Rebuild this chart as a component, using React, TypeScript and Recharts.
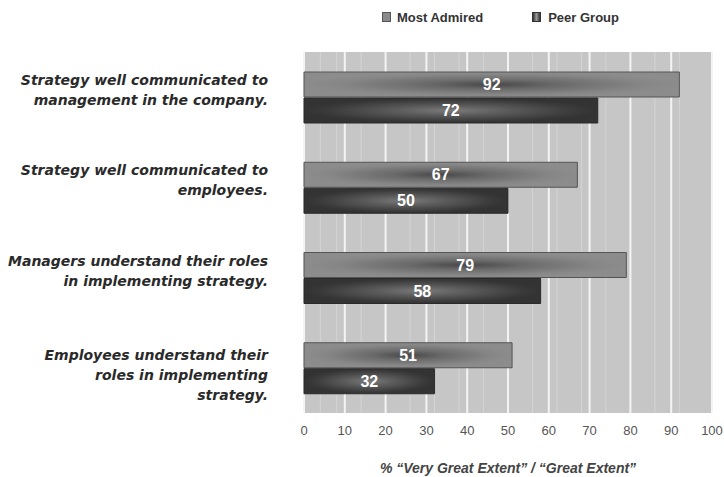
import React from "react";
import {
  BarChart,
  Bar,
  XAxis,
  YAxis,
  CartesianGrid,
  LabelList,
} from "recharts";

const categories = [
  "Strategy well communicated to management in the company.",
  "Strategy well communicated to employees.",
  "Managers understand their roles in implementing strategy.",
  "Employees understand their roles in implementing strategy.",
];
const categoryLines = [
  ["Strategy well communicated to", "management in the company."],
  ["Strategy well communicated to", "employees."],
  ["Managers understand their roles", "in implementing strategy."],
  ["Employees understand their", "roles in implementing", "strategy."],
];
const mostAdmired = [92, 67, 79, 51];
const peerGroup = [72, 50, 58, 32];
const seriesNames = ["Most Admired", "Peer Group"];
const xTicks = [0, 10, 20, 30, 40, 50, 60, 70, 80, 90, 100];
const minorTicks = Array.from({ length: 51 }, (_, i) => i * 2);
const xTitle = "% \u201cVery Great Extent\u201d / \u201cGreat Extent\u201d";

const data = categories.map((c, i) => ({
  label: c,
  most: mostAdmired[i],
  peer: peerGroup[i],
}));

const FONT = "'Liberation Sans', Arial, sans-serif";
const WIDE = "'DejaVu Sans', Verdana, sans-serif";

const YTick = (props: any) => {
  const { x, y, payload } = props;
  const lines: string[] = categoryLines[categories.indexOf(payload.value)] || [payload.value];
  const start = lines.length === 2 ? y - 17 : y - 13;
  return (
    <g>
      {lines.map((ln, i) => (
        <text
          key={i}
          x={x}
          y={start + i * 20}
          textAnchor="end"
          dominantBaseline="central"
          fontFamily={WIDE}
          fontSize={14}
          fontWeight="bold"
          fontStyle="italic"
          fill="#2a2a2a"
        >
          {ln}
        </text>
      ))}
    </g>
  );
};

const LegendBox = () => (
  <div
    style={{
      position: "absolute",
      left: 382,
      top: 8,
      display: "flex",
      alignItems: "center",
      fontFamily: FONT,
      fontSize: 13,
      fontWeight: "bold",
      color: "#333",
      height: 18,
    }}
  >
    <span style={{ display: "inline-block", width: 7, height: 8, background: "#8a8a8a", border: "1px solid #555", marginRight: 6 }} />
    <span style={{ marginRight: 49 }}>{seriesNames[0]}</span>
    <span style={{ display: "inline-block", width: 7, height: 8, background: "linear-gradient(90deg,#333,#999,#333)", border: "1px solid #333", marginRight: 7 }} />
    <span>{seriesNames[1]}</span>
  </div>
);

export default function App() {
  return (
    <div style={{ position: "absolute", left: 0, top: 0, width: 724, height: 477, background: "#fff" }}>
      <LegendBox />
      <BarChart
        width={724}
        height={477}
        data={data}
        layout="vertical"
        margin={{ top: 52, right: 12, bottom: 0, left: 0 }}
        barSize={25}
        barGap={1}
      >
        <defs>
          <radialGradient id="gMost" cx="0.5" cy="0.5" r="0.5">
            <stop offset="0" stopColor="#484848" />
            <stop offset="0.35" stopColor="#6a6a6a" />
            <stop offset="0.8" stopColor="#868686" />
            <stop offset="1" stopColor="#8c8c8c" />
          </radialGradient>
          <radialGradient id="gPeer" cx="0.5" cy="0.5" r="0.5">
            <stop offset="0" stopColor="#7a7a7a" />
            <stop offset="0.4" stopColor="#5a5a5a" />
            <stop offset="0.85" stopColor="#3a3a3a" />
            <stop offset="1" stopColor="#333333" />
          </radialGradient>
        </defs>
        <CartesianGrid
          horizontal={false}
          fill="#c6c6c6"
          stroke="#d4d4d4"
          strokeWidth={1}
          verticalValues={minorTicks}
        />
        <CartesianGrid
          horizontal={false}
          stroke="#f4f4f4"
          strokeWidth={2}
          verticalValues={xTicks}
        />
        <XAxis
          type="number"
          domain={[0, 100]}
          ticks={xTicks}
          axisLine={false}
          tickLine={false}
          tickSize={0}
          tickMargin={13}
          height={64}
          tick={{ fill: "#555", fontSize: 13, fontFamily: FONT }}
          label={{
            value: xTitle,
            position: "insideBottom",
            offset: 4,
            fill: "#444",
            fontSize: 14,
            fontWeight: "bold",
            fontStyle: "italic",
            fontFamily: FONT,
          }}
        />
        <YAxis
          type="category"
          dataKey="label"
          width={304}
          axisLine={false}
          tickLine={false}
          tickSize={0}
          tickMargin={36}
          tick={<YTick />}
          interval={0}
        />
        <Bar dataKey="most" name={seriesNames[0]} fill="url(#gMost)" stroke="#555" strokeWidth={1} isAnimationActive={false}>
          <LabelList dataKey="most" position="center" fill="#fff" fontSize={16} fontWeight="bold" fontFamily="'Liberation Sans Narrow', 'Arial Narrow', sans-serif" />
        </Bar>
        <Bar dataKey="peer" name={seriesNames[1]} fill="url(#gPeer)" stroke="#2a2a2a" strokeWidth={1} isAnimationActive={false}>
          <LabelList dataKey="peer" position="center" fill="#fff" fontSize={16} fontWeight="bold" fontFamily="'Liberation Sans Narrow', 'Arial Narrow', sans-serif" />
        </Bar>
      </BarChart>
    </div>
  );
}
